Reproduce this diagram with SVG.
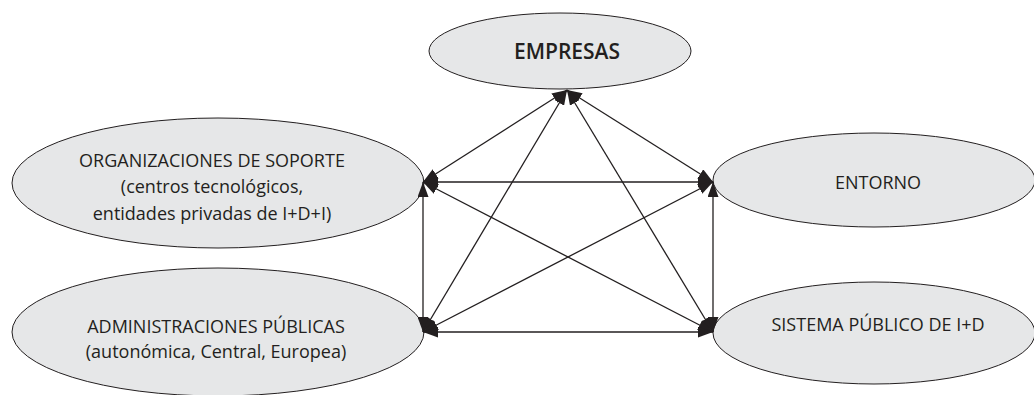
<svg xmlns="http://www.w3.org/2000/svg" width="1034" height="395" viewBox="0 0 1034 395">
  <style>
    .node ellipse { fill: #e6e7e8; stroke: #231f20; stroke-width: 1; }
    .node text { font-family: "Open Sans", "Liberation Sans", sans-serif; font-size: 18px; fill: #231f20; text-anchor: middle; }
    .node text.title { font-size: 21px; font-weight: 600; }
    .edges line { stroke: #231f20; stroke-width: 1.3; marker-start: url(#head); marker-end: url(#head); }
  </style>
  <defs>
    <!-- filled arrowhead used at both ends of every connector -->
    <marker id="head" viewBox="0 0 15 11" refX="15" refY="5.5" markerWidth="15" markerHeight="11" markerUnits="userSpaceOnUse" orient="auto-start-reverse">
      <path d="M0,0 L15,5.5 L0,11 z" fill="#231f20"/>
    </marker>
  </defs>

  <g id="empresas" class="node">
    <ellipse cx="560" cy="51" rx="131" ry="38"/>
    <text class="title" x="567" y="59">EMPRESAS</text>
  </g>

  <g id="organizaciones" class="node">
    <ellipse cx="218" cy="183" rx="206" ry="65"/>
    <text x="212" y="167">ORGANIZACIONES DE SOPORTE</text>
    <text x="212" y="193">(centros tecnológicos,</text>
    <text x="212" y="220">entidades privadas de I+D+I)</text>
  </g>

  <g id="entorno" class="node">
    <ellipse cx="874" cy="180" rx="161" ry="47"/>
    <text x="878" y="189">ENTORNO</text>
  </g>

  <g id="administraciones" class="node">
    <ellipse cx="218" cy="332" rx="206" ry="64"/>
    <text x="216" y="333">ADMINISTRACIONES PÚBLICAS</text>
    <text x="216" y="358">(autonómica, Central, Europea)</text>
  </g>

  <g id="sistema" class="node">
    <ellipse cx="874" cy="333" rx="161" ry="51"/>
    <text x="878" y="331">SISTEMA PÚBLICO DE I+D</text>
  </g>

  <!-- every pair of nodes is linked by a two-way arrow -->
  <g id="connectors" class="edges">
    <line x1="567" y1="90" x2="423" y2="182"/>
    <line x1="567" y1="90" x2="713" y2="182"/>
    <line x1="567" y1="90" x2="423" y2="332"/>
    <line x1="567" y1="90" x2="713" y2="332"/>
    <line x1="423" y1="182" x2="713" y2="182"/>
    <line x1="423" y1="332" x2="423" y2="182"/>
    <line x1="423" y1="182" x2="713" y2="332"/>
    <line x1="423" y1="332" x2="713" y2="182"/>
    <line x1="713" y1="332" x2="713" y2="182"/>
    <line x1="423" y1="332" x2="713" y2="332"/>
  </g>
</svg>
